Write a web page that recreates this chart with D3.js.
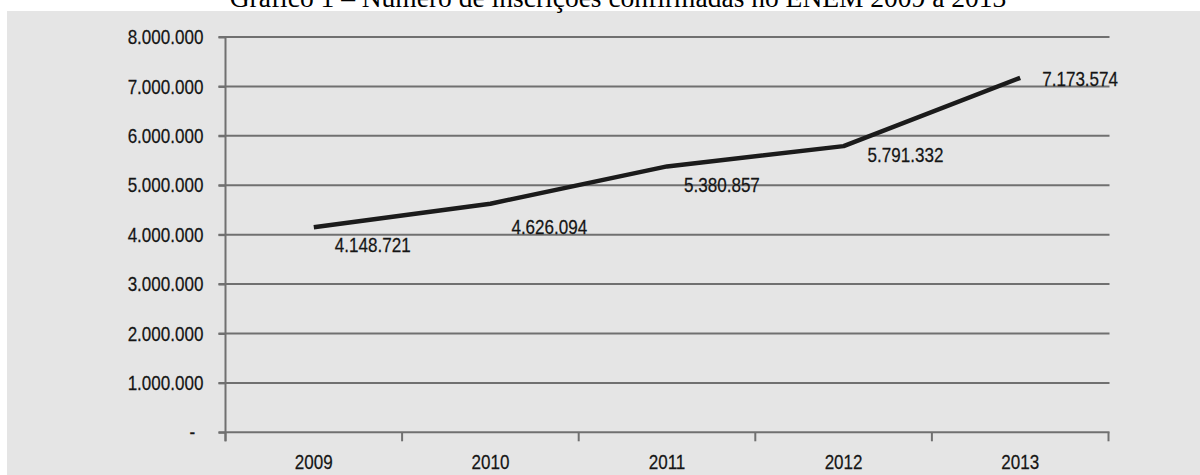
<!DOCTYPE html>
<html lang="pt-BR">
<head>
<meta charset="utf-8">
<title>Número de inscrições confirmadas no ENEM 2009 a 2013</title>
<script src="https://cdn.jsdelivr.net/npm/d3@7"></script>
<style>
  html, body { margin: 0; padding: 0; background: #ffffff; }
  svg { display: block; }
  .tick-label { font-family: "Liberation Sans", Arial, sans-serif; font-size: 20.8px; fill: #151515; stroke: #151515; stroke-width: 0.25px; }
  .title { font-family: "Liberation Serif", "Times New Roman", serif; font-size: 27.5px; fill: #000; }
</style>
</head>
<body>
<svg id="chart" width="1200" height="475"></svg>
<script>
// Inscrições confirmadas por ano
const years = ["2009", "2010", "2011", "2012", "2013"];
const inscricoes = [4148721, 4626094, 5380857, 5791332, 7173574];
const yTickValues = [0, 1000000, 2000000, 3000000, 4000000, 5000000, 6000000, 7000000, 8000000];

// Placement of each value label relative to its point (px)
const labelDx = [21, 21, 17, 24, 22];
const labelDy = [17, 23, 18, 9, 1];

const ptBR = d3.formatLocale({ decimal: ",", thousands: ".", grouping: [3], currency: ["R$", ""] });
const fmt = ptBR.format(",d");

// narrow the label glyphs horizontally while keeping each text anchored at its x
const NARROW = 0.82;
function condense(sel) {
  sel.each(function () {
    const t = d3.select(this);
    const ax = +(t.attr("x") || 0);
    t.attr("transform", `translate(${ax * (1 - NARROW)},0) scale(${NARROW},1)`);
  });
}

const svg = d3.select("#chart");
const W = 1200, H = 475;

// chart area background
svg.append("rect").attr("x", 7).attr("y", 11).attr("width", W - 7).attr("height", H - 11).attr("fill", "#e5e5e5");

// title (sits at the top edge)
svg.append("text").attr("class", "title")
  .attr("x", 618).attr("y", 7).attr("text-anchor", "middle")
  .text("Gráfico 1 – Número de inscrições confirmadas no ENEM 2009 a 2013");

const plotLeft = 225.5, plotRight = 1108.5, plotTop = 37, plotBottom = 432.3;

const x = d3.scaleBand().domain(years).range([plotLeft, plotRight]).padding(0);
const y = d3.scaleLinear().domain([0, 8000000]).range([plotBottom, plotTop]);

const gridColor = "#707070";

// horizontal gridlines
svg.append("g").selectAll("line").data(yTickValues).join("line")
  .attr("x1", plotLeft - 7).attr("x2", plotRight + 1)
  .attr("y1", d => y(d)).attr("y2", d => y(d))
  .attr("stroke", gridColor).attr("stroke-width", 2);

// y axis labels
const yAxis = d3.axisLeft(y).tickValues(yTickValues).tickSize(7).tickPadding(15)
  .tickFormat(d => d === 0 ? "-" : fmt(d));
const gy = svg.append("g").attr("transform", `translate(${plotLeft},0)`).call(yAxis);
gy.attr("font-family", null).attr("font-size", null);
gy.select(".domain").remove();
gy.selectAll(".tick line").attr("stroke", gridColor).attr("stroke-width", 2);
gy.selectAll(".tick text").attr("class", "tick-label")
  .attr("dx", d => d === 0 ? "-10" : null)
  .call(condense);

// vertical axis line
svg.append("line").attr("x1", plotLeft).attr("x2", plotLeft).attr("y1", y(8000000)).attr("y2", plotBottom + 9)
  .attr("stroke", gridColor).attr("stroke-width", 2);

// x axis tick marks on category boundaries
const bounds = d3.range(years.length + 1).map(i => plotLeft + i * x.bandwidth());
svg.append("g").selectAll("line").data(bounds).join("line")
  .attr("x1", d => d).attr("x2", d => d).attr("y1", plotBottom).attr("y2", plotBottom + 9)
  .attr("stroke", gridColor).attr("stroke-width", 2);

// x axis labels
const xAxis = d3.axisBottom(x).tickSize(0).tickPadding(22);
const gx = svg.append("g").attr("transform", `translate(0,${plotBottom})`).call(xAxis);
gx.attr("font-family", null).attr("font-size", null);
gx.select(".domain").remove();
gx.selectAll(".tick text").attr("class", "tick-label").call(condense);

// series line
const line = d3.line()
  .x((d, i) => x(years[i]) + x.bandwidth() / 2)
  .y(d => y(d));
svg.append("path").datum(inscricoes)
  .attr("d", line)
  .attr("fill", "none").attr("stroke", "#1b1b1b").attr("stroke-width", 4.5)
  .attr("stroke-linejoin", "round").attr("stroke-linecap", "butt");

// value labels
svg.append("g").selectAll("text").data(inscricoes).join("text")
  .attr("class", "tick-label")
  .attr("x", (d, i) => x(years[i]) + x.bandwidth() / 2 + labelDx[i])
  .attr("y", (d, i) => y(d) + labelDy[i])
  .attr("dy", "0.35em")
  .text(d => fmt(d))
  .call(condense);
</script>
</body>
</html>
